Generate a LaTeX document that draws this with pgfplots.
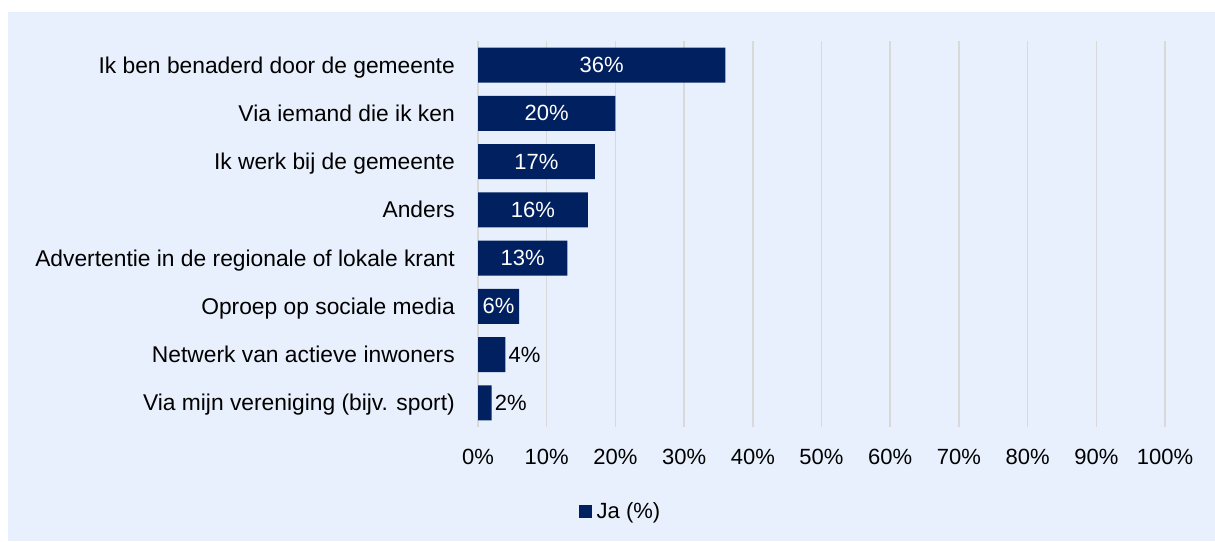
\documentclass[border=0pt]{standalone}
\usepackage{pgfplots}
\pgfplotsset{compat=1.18}
\usepackage{fontspec}
\setmainfont{Liberation Sans}
\definecolor{navy}{HTML}{002060}
\definecolor{panel}{HTML}{E8F0FD}
\definecolor{gridgray}{HTML}{D9D9D9}
\newcommand{\lbl}{\fontsize{22}{26}\selectfont}
\newcommand{\catlbl}{\fontsize{22.8}{27}\selectfont}

\begin{document}
\begin{tikzpicture}
% page and chart panel
\fill[white] (0,0) rectangle (1215pt,541pt);
\fill[panel] (8pt,0) rectangle (1215pt,529pt);
\begin{axis}[
    at={(478pt,114pt)}, anchor=south west,
    scale only axis,
    width=687pt, height=386pt,
    xbar, bar width=35pt,
    xmin=0, xmax=100,
    ymin=-0.5, ymax=7.5,
    y dir=reverse,
    xtick={0,10,...,100},
    xticklabel={\pgfmathprintnumber{\tick}\%},
    /pgf/number format/assume math mode=true,
    ytick={0,...,7},
    yticklabels={Ik ben benaderd door de gemeente, Via iemand die ik ken, Ik werk bij de gemeente, Anders, Advertentie in de regionale of lokale krant, Oproep op sociale media, Netwerk van actieve inwoners, Via mijn vereniging (bijv. sport)},
    xmajorgrids, major grid style={gridgray, line width=1.5pt},
    axis line style={draw=none},
    major tick length=0pt,
    ticklabel style={font=\lbl, text=black},
    xticklabel style={anchor=center, yshift=-30pt},
    yticklabel style={font=\catlbl, anchor=base east, inner sep=0pt, xshift=-23pt, yshift=-8pt},
    legend style={at={(0.2096,-0.2176)}, anchor=center, draw=none, fill=none,
        font=\lbl, inner sep=0pt,
        nodes={inner xsep=5pt}},
    legend image code/.code={\fill[navy] (0pt,-6.5pt) rectangle (13pt,6.5pt);},
]
% labelled inside the bar
\addplot[fill=navy, draw=none, bar shift=0pt,
    visualization depends on={rawx \as \rawx},
    nodes near coords,
    nodes near coords={\pgfmathprintnumber{\pgfplotspointmeta}\%},
    every node near coord/.style={anchor=center, text=white, font=\lbl,
        inner sep=0pt, xshift={-0.5*\rawx*6.87pt}},
    point meta=x]
    coordinates {(36,0) (20,1) (17,2) (16,3) (13,4) (6,5)};
\addlegendentry{Ja (\%)}
% labelled outside the bar
\addplot[fill=navy, draw=none, bar shift=0pt, forget plot,
    nodes near coords,
    nodes near coords={\pgfmathprintnumber{\pgfplotspointmeta}\%},
    every node near coord/.style={anchor=west, text=black, font=\lbl,
        inner sep=0pt, xshift=3pt},
    point meta=x]
    coordinates {(4,6) (2,7)};
\end{axis}
\end{tikzpicture}
\end{document}
